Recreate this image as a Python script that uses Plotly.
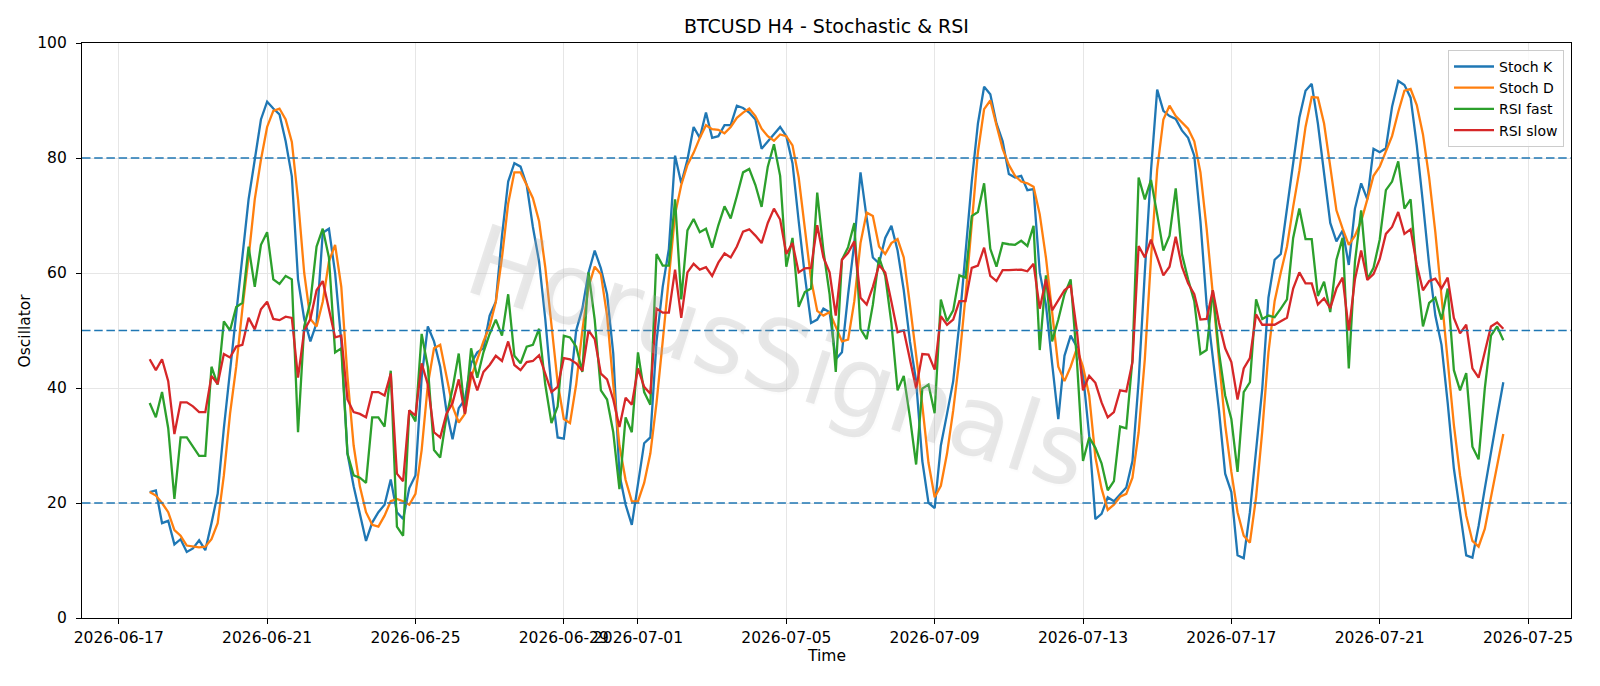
import pandas as pd
import plotly.graph_objects as go

start_time = "2026-06-17 20:00"
n_points = 220

stoch_k = [
    21.9, 22.2, 16.5, 16.9, 12.8, 13.7, 11.5, 12.1, 13.5, 11.8,
    16.5, 21.6, 33.0, 43.0, 53.8, 63.3, 72.8, 79.7, 86.7, 89.8,
    88.6, 87.6, 82.9, 76.8, 58.9, 52.0, 48.1, 51.3, 67.0, 67.7,
    60.0, 48.1, 28.6, 22.9, 18.4, 13.4, 16.6, 18.4, 19.7, 24.1,
    18.4, 17.2, 22.6, 24.8, 41.8, 50.7, 48.1, 43.7, 36.1, 31.1,
    36.5, 38.0, 44.3, 46.2, 46.9, 52.6, 55.0, 66.5, 75.9, 79.1,
    78.5, 75.3, 68.0, 62.0, 52.0, 40.0, 31.4, 31.2, 39.9, 50.0,
    53.8, 60.1, 63.9, 60.8, 56.3, 46.0, 25.0, 19.7, 16.2, 23.5,
    30.4, 31.4, 48.1, 57.6, 64.2, 80.4, 75.6, 79.7, 85.4, 83.5,
    87.9, 83.5, 83.8, 85.7, 85.7, 89.1, 88.7, 87.9, 86.7, 81.6,
    82.9, 84.0, 85.4, 83.8, 79.1, 69.0, 59.5, 51.3, 51.9, 53.8,
    53.2, 45.0, 46.2, 56.3, 65.2, 77.5, 69.6, 62.7, 61.7, 66.1,
    68.2, 63.9, 57.0, 48.1, 41.2, 27.3, 20.0, 19.1, 30.0, 35.5,
    41.2, 51.3, 63.9, 75.9, 86.0, 92.4, 91.1, 86.0, 82.9, 77.2,
    76.6, 76.9, 74.4, 74.6, 60.1, 54.5, 44.3, 34.6, 45.6, 49.1,
    47.2, 42.5, 31.7, 17.2, 18.1, 21.0, 20.3, 21.6, 22.7, 27.3,
    41.2, 60.1, 77.8, 91.9, 88.2, 87.3, 86.8, 84.8, 83.5, 80.4,
    69.0, 54.5, 45.6, 36.1, 25.1, 21.9, 10.9, 10.4, 18.4, 29.8,
    39.9, 55.7, 62.3, 63.3, 70.9, 78.5, 87.0, 91.7, 92.9, 86.0,
    77.8, 68.7, 65.5, 67.4, 61.4, 71.2, 75.6, 72.8, 81.6, 81.0,
    81.7, 88.9, 93.4, 92.7, 90.5, 82.2, 72.1, 61.4, 52.6, 47.5,
    37.4, 26.0, 18.4, 10.9, 10.5, 16.0, 22.5, 29.0, 35.0, 41.0,
]

stoch_d = [
    21.9, 21.3, 20.0, 18.4, 15.3, 14.3, 12.6, 12.4, 12.3, 12.4,
    13.7, 16.5, 24.8, 35.5, 43.7, 53.8, 62.7, 72.8, 79.7, 85.4,
    88.2, 88.6, 86.7, 82.8, 72.8, 60.0, 52.0, 50.7, 55.0, 62.0,
    64.9, 57.6, 42.0, 30.0, 22.9, 18.4, 16.2, 15.9, 17.8, 20.3,
    20.7, 20.3, 19.7, 21.6, 29.2, 40.6, 46.9, 47.5, 41.8, 36.8,
    34.0, 35.5, 41.8, 45.0, 48.1, 50.7, 55.0, 62.7, 72.1, 77.5,
    77.5, 75.3, 73.0, 69.0, 61.0, 51.0, 41.0, 34.6, 33.9, 40.6,
    50.0, 57.6, 61.1, 59.8, 52.6, 40.6, 30.0, 24.0, 20.3, 20.3,
    23.5, 28.6, 37.4, 48.1, 59.5, 70.2, 75.3, 78.8, 80.9, 83.5,
    85.7, 85.0, 84.9, 84.3, 85.4, 87.0, 87.9, 88.6, 87.3, 85.1,
    83.8, 83.0, 84.1, 83.8, 82.2, 76.6, 67.7, 58.9, 53.4, 52.6,
    53.2, 50.7, 48.1, 48.4, 55.1, 65.2, 70.5, 69.9, 64.6, 63.3,
    65.2, 65.9, 62.7, 54.5, 45.6, 37.0, 27.0, 21.0, 23.0, 28.6,
    36.1, 45.0, 56.0, 69.0, 81.0, 88.5, 90.0, 85.7, 81.6, 78.8,
    76.9, 75.9, 75.6, 75.0, 70.2, 62.7, 52.6, 43.7, 41.2, 43.7,
    46.9, 43.7, 38.7, 28.0, 22.5, 18.8, 19.7, 21.1, 21.6, 24.4,
    32.3, 45.0, 62.5, 78.0, 86.7, 89.1, 87.3, 86.2, 85.1, 82.9,
    77.5, 67.7, 56.3, 45.0, 33.6, 25.4, 18.4, 14.3, 13.1, 21.0,
    32.5, 46.2, 55.1, 60.1, 64.6, 71.5, 77.8, 85.4, 90.6, 90.5,
    86.0, 78.5, 70.9, 67.7, 64.9, 66.5, 69.0, 72.8, 76.9, 78.5,
    81.0, 83.8, 88.0, 91.7, 92.0, 89.2, 84.1, 76.6, 67.1, 56.3,
    45.0, 33.6, 24.8, 17.8, 13.4, 12.4, 15.5, 21.0, 26.5, 32.0,
]

rsi_fast = [
    37.4, 34.9, 39.3, 33.0, 20.7, 31.4, 31.4, 29.8, 28.2, 28.2,
    43.7, 40.6, 51.6, 50.0, 54.1, 54.8, 64.6, 57.6, 64.9, 67.1,
    58.9, 58.1, 59.5, 58.9, 32.3, 50.7, 55.0, 64.6, 67.7, 62.7,
    46.2, 46.9, 28.6, 24.8, 24.4, 23.5, 34.9, 34.9, 33.3, 43.0,
    15.9, 14.3, 36.1, 34.2, 49.4, 43.7, 29.2, 27.9, 34.9, 39.9,
    46.0, 35.5, 46.9, 41.8, 46.2, 49.4, 51.9, 49.1, 56.3, 45.6,
    44.3, 47.2, 47.5, 50.3, 40.6, 33.9, 36.8, 49.1, 48.8, 47.2,
    42.8, 60.1, 51.9, 39.6, 38.0, 32.3, 22.4, 34.9, 32.3, 46.2,
    39.3, 37.1, 63.3, 61.3, 61.3, 72.8, 55.4, 67.4, 69.4, 67.1,
    67.7, 64.4, 68.3, 71.6, 69.5, 73.4, 77.5, 78.1, 75.3, 71.5,
    78.5, 82.4, 76.9, 61.1, 66.1, 54.1, 56.7, 57.3, 74.0, 63.9,
    56.3, 42.8, 62.3, 64.5, 68.7, 50.3, 48.5, 54.5, 62.7, 59.5,
    51.3, 39.6, 42.1, 34.9, 26.7, 39.9, 40.6, 35.6, 55.4, 51.6,
    53.5, 59.6, 59.2, 69.9, 70.6, 75.6, 64.2, 61.1, 65.2, 65.0,
    64.9, 65.6, 64.7, 68.2, 46.6, 59.6, 48.1, 51.9, 56.3, 58.9,
    45.0, 27.3, 31.4, 29.6, 26.9, 22.2, 23.8, 33.3, 33.0, 45.0,
    76.6, 72.8, 76.2, 70.2, 63.9, 66.5, 74.7, 63.3, 58.9, 55.1,
    45.9, 46.6, 57.0, 46.2, 38.7, 34.6, 25.4, 39.3, 41.0, 55.4,
    52.0, 52.6, 52.3, 53.8, 55.4, 66.1, 71.2, 65.9, 65.9, 56.0,
    58.5, 53.2, 62.3, 66.1, 43.4, 62.0, 70.9, 58.9, 60.9, 65.8,
    74.4, 75.9, 79.4, 71.2, 72.8, 60.0, 50.7, 54.8, 55.7, 51.9,
    57.3, 43.1, 39.6, 42.6, 29.8, 27.6, 39.9, 49.1, 50.7, 48.3,
]

rsi_slow = [
    45.0, 43.1, 45.0, 41.2, 32.0, 37.5, 37.5, 36.8, 35.8, 35.8,
    42.1, 40.7, 45.9, 45.3, 47.2, 47.5, 52.2, 50.2, 53.7, 55.0,
    52.0, 51.8, 52.4, 52.2, 41.8, 50.0, 52.0, 57.0, 58.6, 53.9,
    48.8, 49.1, 38.0, 35.8, 35.5, 34.9, 39.3, 39.3, 38.7, 42.5,
    25.1, 23.8, 36.1, 35.2, 44.3, 40.6, 32.3, 31.4, 35.5, 37.4,
    41.5, 35.5, 42.8, 39.6, 42.8, 44.0, 45.6, 44.7, 48.1, 44.0,
    43.1, 44.5, 44.7, 45.7, 42.5, 39.3, 40.2, 45.2, 45.0, 44.3,
    43.0, 50.0, 48.5, 42.5, 41.5, 38.0, 33.2, 38.3, 37.1, 43.4,
    40.2, 39.0, 53.8, 53.1, 53.1, 60.6, 52.2, 60.1, 61.6, 60.6,
    61.0, 59.5, 61.8, 63.4, 62.7, 64.6, 67.2, 67.6, 66.5, 65.2,
    68.7, 71.2, 69.3, 63.3, 65.2, 60.1, 60.8, 60.9, 68.3, 62.7,
    60.1, 52.6, 62.3, 63.5, 65.5, 55.7, 54.5, 57.6, 61.4, 60.1,
    55.0, 49.7, 50.0, 45.0, 39.9, 45.9, 45.8, 43.2, 52.5, 51.0,
    51.9, 55.1, 55.1, 60.9, 61.3, 64.4, 59.5, 58.6, 60.5, 60.5,
    60.5, 60.6, 60.3, 61.6, 53.8, 58.9, 53.5, 55.2, 57.0, 57.9,
    50.0, 39.6, 42.1, 40.9, 37.5, 34.9, 35.8, 39.6, 39.4, 44.5,
    64.7, 62.7, 65.8, 62.7, 59.6, 61.1, 66.3, 61.1, 58.2, 56.3,
    51.9, 52.0, 57.0, 51.3, 46.9, 44.5, 38.0, 43.4, 45.2, 52.8,
    51.0, 51.0, 51.0, 51.6, 52.2, 57.3, 60.1, 58.2, 58.2, 54.5,
    55.6, 53.9, 57.3, 59.2, 50.0, 58.9, 63.9, 58.8, 59.8, 62.4,
    66.8, 68.0, 70.6, 66.8, 67.6, 61.4, 57.0, 58.6, 59.0, 57.3,
    59.2, 52.2, 49.5, 51.0, 43.4, 41.8, 46.1, 50.7, 51.4, 50.3,
]

tick_dates = ["2026-06-17", "2026-06-21", "2026-06-25", "2026-06-29", "2026-07-01",
              "2026-07-05", "2026-07-09", "2026-07-13", "2026-07-17", "2026-07-21",
              "2026-07-25"]
y_ticks = [0, 20, 40, 60, 80, 100]
levels = [20, 50, 80]

series_names = ["Stoch K", "Stoch D", "RSI fast", "RSI slow"]
series_colors = ["#1f77b4", "#ff7f0e", "#2ca02c", "#d62728"]

times = pd.date_range(start=start_time, periods=n_points, freq="4h")
span = times[-1] - times[0]
x_range = [times[0] - span * 0.05, times[-1] + span * 0.05]

FONT = "DejaVu Sans"
fig = go.Figure()
for name, vals, col in zip(series_names, [stoch_k, stoch_d, rsi_fast, rsi_slow], series_colors):
    fig.add_trace(go.Scatter(x=times, y=vals, mode="lines", name=name,
                             line=dict(color=col, width=2.3)))

for lv in levels:
    fig.add_shape(type="line", xref="paper", x0=0, x1=1, yref="y", y0=lv, y1=lv,
                  line=dict(color="#1f77b4", width=1.7, dash="8.5px,3.7px"))

fig.add_annotation(text="HorusSignals", xref="paper", yref="paper", x=0.468, y=0.455,
                   showarrow=False, textangle=18,
                   font=dict(family=FONT, size=99, color="rgba(175,175,175,0.27)",
                             shadow="2px 2px 2px rgba(0,0,0,0.06)"))

fig.add_annotation(text="Time", xref="paper", yref="paper", x=0.5, y=-0.066,
                   showarrow=False, yanchor="middle", font=dict(family=FONT, size=15.5, color="black"))
fig.add_annotation(text="Oscillator", xref="paper", yref="paper", x=-0.0383, y=0.5,
                   showarrow=False, textangle=-90, xanchor="center", yanchor="middle",
                   font=dict(family=FONT, size=15.5, color="black"))

fig.update_layout(
    width=1600, height=686,
    margin=dict(l=82, r=29, t=43, b=68, autoexpand=False),
    paper_bgcolor="white", plot_bgcolor="white",
    font=dict(family=FONT, size=15.5, color="black"),
    title=dict(text="BTCUSD H4 - Stochastic & RSI", x=0.5, xref="paper",
               y=1 - 26.5 / 686, yref="container", yanchor="middle", xanchor="center",
               font=dict(family=FONT, size=19, color="black")),
    showlegend=True,
    legend=dict(x=0.9953, y=0.988, xanchor="right", yanchor="top",
                bgcolor="rgba(255,255,255,0.8)", bordercolor="#cccccc", borderwidth=1,
                font=dict(family=FONT, size=14), tracegroupgap=0, itemwidth=40),
)
fig.update_xaxes(type="date", range=x_range, tickvals=tick_dates, ticktext=tick_dates,
                 tickangle=0, automargin=False,
                 showline=True, linecolor="black", linewidth=1.2, mirror=True,
                 ticks="outside", ticklen=5, tickwidth=1.2, tickcolor="black",
                 showgrid=True, gridcolor="#e6e6e6", gridwidth=1.2, zeroline=False)
fig.update_yaxes(range=[0, 100], tickvals=y_ticks, automargin=False, ticklabelstandoff=6,
                 showline=True, linecolor="black", linewidth=1.2, mirror=True,
                 ticks="outside", ticklen=5, tickwidth=1.2, tickcolor="black",
                 showgrid=True, gridcolor="#e6e6e6", gridwidth=1.2, zeroline=False)

fig.write_html("out.html")
